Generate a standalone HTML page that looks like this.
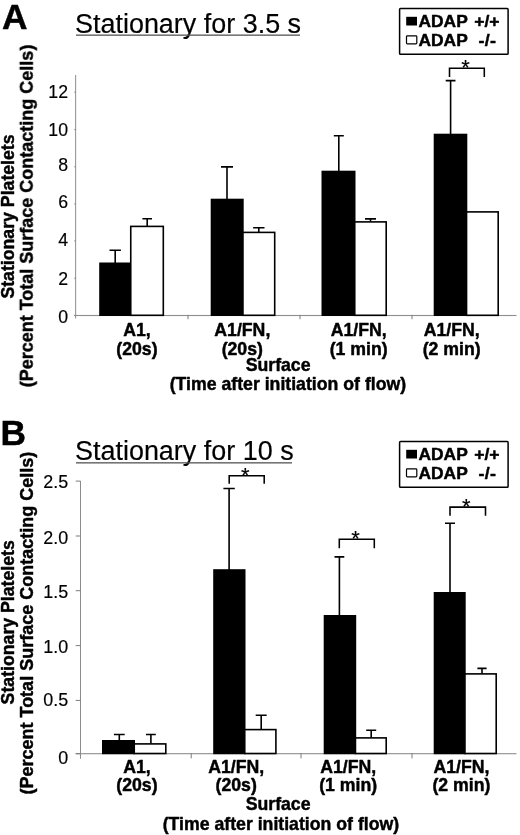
<!DOCTYPE html>
<html><head><meta charset="utf-8"><title>Figure</title>
<style>html,body{margin:0;padding:0;background:#fff}svg{display:block}text{font-family:"Liberation Sans", sans-serif;fill:#000;stroke:#000;stroke-width:0.18px;stroke-linejoin:round}text[font-weight=bold]{stroke-width:0.45px}</style>
</head><body>
<svg width="520" height="835" viewBox="0 0 520 835">
<defs><filter id="soft" x="0" y="0" width="520" height="835" filterUnits="userSpaceOnUse" color-interpolation-filters="sRGB"><feGaussianBlur stdDeviation="0.4"/></filter></defs>
<rect width="520" height="835" fill="#fff"/>
<g filter="url(#soft)">
<text x="2.1" y="28.8" font-size="35.3" font-weight="bold" text-anchor="start" >A</text>
<text x="75" y="32.5" font-size="26.95" font-weight="normal" text-anchor="start" >Stationary for 3.5 s</text>
<rect x="76" y="34.5" width="224" height="1.3" fill="#555"/>
<rect x="75.05" y="75" width="1.1" height="243.5" fill="#989898"/>
<rect x="74.3" y="314.95" width="442.2" height="1.1" fill="#8e8e8e"/>
<rect x="74.3" y="315.0" width="1.3" height="1" fill="#7c7c7c"/>
<text x="68.0" y="322.8" font-size="17.7" font-weight="normal" text-anchor="end" >0</text>
<rect x="74.3" y="277.7" width="1.3" height="1" fill="#7c7c7c"/>
<text x="68.0" y="284.7" font-size="17.7" font-weight="normal" text-anchor="end" >2</text>
<rect x="74.3" y="240.4" width="1.3" height="1" fill="#7c7c7c"/>
<text x="68.0" y="245.9" font-size="17.7" font-weight="normal" text-anchor="end" >4</text>
<rect x="74.3" y="203.4" width="1.3" height="1" fill="#7c7c7c"/>
<text x="68.0" y="208.4" font-size="17.7" font-weight="normal" text-anchor="end" >6</text>
<rect x="74.3" y="166.3" width="1.3" height="1" fill="#7c7c7c"/>
<text x="68.0" y="170.6" font-size="17.7" font-weight="normal" text-anchor="end" >8</text>
<rect x="74.3" y="129.1" width="1.3" height="1" fill="#7c7c7c"/>
<text x="68.0" y="135.6" font-size="17.7" font-weight="normal" text-anchor="end" >10</text>
<rect x="74.3" y="91.7" width="1.3" height="1" fill="#7c7c7c"/>
<text x="68.0" y="97.6" font-size="17.7" font-weight="normal" text-anchor="end" >12</text>
<rect x="187.5" y="315.0" width="1" height="4.2" fill="#7c7c7c"/>
<rect x="299.5" y="315.0" width="1" height="4.2" fill="#7c7c7c"/>
<rect x="411.5" y="315.0" width="1" height="4.2" fill="#7c7c7c"/>
<rect x="99.2" y="262.5" width="32.3" height="53.5" fill="#000"/>
<path d="M115.2 263V250.2M109.5 250.2H120.9" stroke="#000" stroke-width="1.6" fill="none"/>
<rect x="130.75" y="226.40" width="32.55" height="88.90" fill="#fff" stroke="#000" stroke-width="1.6"/>
<path d="M147.2 226V218.7M142.39999999999998 218.7H152.0" stroke="#000" stroke-width="1.6" fill="none"/>
<rect x="210.7" y="198.7" width="33.0" height="117.30000000000001" fill="#000"/>
<path d="M227 199V166.9M221.0 166.9H233.0" stroke="#000" stroke-width="1.6" fill="none"/>
<rect x="242.95" y="232.40" width="31.75" height="82.90" fill="#fff" stroke="#000" stroke-width="1.6"/>
<path d="M258.8 232V227.7M253.10000000000002 227.7H264.5" stroke="#000" stroke-width="1.6" fill="none"/>
<rect x="321.5" y="170.7" width="34.0" height="145.3" fill="#000"/>
<path d="M338.8 171V135.7M333.8 135.7H343.8" stroke="#000" stroke-width="1.6" fill="none"/>
<rect x="354.75" y="221.90" width="31.45" height="93.40" fill="#fff" stroke="#000" stroke-width="1.6"/>
<path d="M370.5 221.5V218.9M365.0 218.9H376.0" stroke="#000" stroke-width="1.6" fill="none"/>
<rect x="433.7" y="133.7" width="33.60000000000002" height="182.3" fill="#000"/>
<path d="M450.6 134V80.6M445.70000000000005 80.6H455.5" stroke="#000" stroke-width="1.6" fill="none"/>
<rect x="466.55" y="211.90" width="31.65" height="103.40" fill="#fff" stroke="#000" stroke-width="1.6"/>
<path d="M449.5 77V68.3H484.3V77" stroke="#000" stroke-width="1.55" fill="none"/>
<text x="465.5" y="75.39999999999999" font-size="22" font-weight="normal" text-anchor="middle" >*</text>
<rect x="399.6" y="8.55" width="108.5" height="45.75" rx="0.9" fill="#fff" stroke="#000" stroke-width="1.5"/>
<rect x="406.20000000000005" y="16.8" width="10.8" height="8.7" fill="#000"/>
<rect x="406.5" y="35.900000000000006" width="10.3" height="8.0" rx="0.8" fill="#fff" stroke="#000" stroke-width="1.2"/>
<text transform="translate(418.5,26.8) scale(1.03,1)" font-size="16.9" font-weight="bold" text-anchor="start" >ADAP</text>
<text transform="translate(499.6,26.8) scale(1.04,1)" font-size="16.9" font-weight="bold" text-anchor="end" >+/+</text>
<text transform="translate(418.5,45.8) scale(1.03,1)" font-size="16.9" font-weight="bold" text-anchor="start" >ADAP</text>
<text transform="translate(496.20000000000005,45.8) scale(1.06,1)" font-size="16.9" font-weight="bold" text-anchor="end" letter-spacing="0.25">-/-</text>
<text transform="translate(13.7,216.5) rotate(-90)" font-size="17.7" font-weight="bold" text-anchor="middle">Stationary Platelets</text>
<text transform="translate(32.8,216) rotate(-90)" font-size="18.0" font-weight="bold" text-anchor="middle">(Percent Total Surface Contacting Cells)</text>
<text x="136.9" y="335.5" font-size="17.7" font-weight="bold" text-anchor="middle" >A1,</text>
<text x="136.9" y="355" font-size="17.7" font-weight="bold" text-anchor="middle" >(20s)</text>
<text x="242.3" y="335.5" font-size="17.7" font-weight="bold" text-anchor="middle" >A1/FN,</text>
<text x="242.3" y="355" font-size="17.7" font-weight="bold" text-anchor="middle" >(20s)</text>
<text x="358.7" y="335.5" font-size="17.7" font-weight="bold" text-anchor="middle" >A1/FN,</text>
<text x="358.7" y="355" font-size="17.7" font-weight="bold" text-anchor="middle" >(1 min)</text>
<text x="451.7" y="335.5" font-size="17.7" font-weight="bold" text-anchor="middle" >A1/FN,</text>
<text x="451.7" y="355" font-size="17.7" font-weight="bold" text-anchor="middle" >(2 min)</text>
<text x="278.1" y="371.3" font-size="17.7" font-weight="bold" text-anchor="middle" >Surface</text>
<text x="287.9" y="389.5" font-size="17.7" font-weight="bold" text-anchor="middle" >(Time after initiation of flow)</text>
<text x="0.6" y="444.7" font-size="35.3" font-weight="bold" text-anchor="start" >B</text>
<text x="75" y="459.7" font-size="26.95" font-weight="normal" text-anchor="start" >Stationary for 10 s</text>
<rect x="76" y="462.2" width="216" height="1.3" fill="#555"/>
<rect x="80.0" y="481" width="1" height="277.70000000000005" fill="#8c8c8c"/>
<rect x="75.7" y="753.1500000000001" width="440.8" height="1.1" fill="#8e8e8e"/>
<rect x="75.7" y="753.2" width="4.8" height="1" fill="#7c7c7c"/>
<text x="68.2" y="763.9" font-size="17.9" font-weight="normal" text-anchor="end" >0</text>
<rect x="75.7" y="699.9" width="4.8" height="1" fill="#7c7c7c"/>
<text x="68.2" y="705.9" font-size="17.9" font-weight="normal" text-anchor="end" >0.5</text>
<rect x="75.7" y="645.1" width="4.8" height="1" fill="#7c7c7c"/>
<text x="68.2" y="652.6" font-size="17.9" font-weight="normal" text-anchor="end" >1.0</text>
<rect x="75.7" y="590.2" width="4.8" height="1" fill="#7c7c7c"/>
<text x="68.2" y="598.4" font-size="17.9" font-weight="normal" text-anchor="end" >1.5</text>
<rect x="75.7" y="535.5" width="4.8" height="1" fill="#7c7c7c"/>
<text x="68.2" y="543.8" font-size="17.9" font-weight="normal" text-anchor="end" >2.0</text>
<rect x="75.7" y="480.6" width="4.8" height="1" fill="#7c7c7c"/>
<text x="68.2" y="488.0" font-size="17.9" font-weight="normal" text-anchor="end" >2.5</text>
<rect x="190.7" y="753.2" width="1" height="5.2" fill="#7c7c7c"/>
<rect x="300.5" y="753.2" width="1" height="5.2" fill="#7c7c7c"/>
<rect x="411.5" y="753.2" width="1" height="5.2" fill="#7c7c7c"/>
<rect x="102" y="740" width="33" height="14.200000000000045" fill="#000"/>
<path d="M119.3 740.5V734.5M113.89999999999999 734.5H124.7" stroke="#000" stroke-width="1.6" fill="none"/>
<rect x="134.25" y="743.90" width="31.55" height="9.60" fill="#fff" stroke="#000" stroke-width="1.6"/>
<path d="M150.9 743.5V734.5M146.0 734.5H155.8" stroke="#000" stroke-width="1.6" fill="none"/>
<rect x="213.2" y="569.2" width="32.30000000000001" height="185.0" fill="#000"/>
<path d="M229.1 570V488.5M223.4 488.5H234.79999999999998" stroke="#000" stroke-width="1.6" fill="none"/>
<rect x="244.75" y="729.60" width="31.15" height="23.90" fill="#fff" stroke="#000" stroke-width="1.6"/>
<path d="M261.2 729V715.2M255.7 715.2H266.7" stroke="#000" stroke-width="1.6" fill="none"/>
<rect x="323.7" y="615" width="32.5" height="139.20000000000005" fill="#000"/>
<path d="M339.4 615.5V556.9M334.5 556.9H344.29999999999995" stroke="#000" stroke-width="1.6" fill="none"/>
<rect x="355.45" y="737.90" width="30.75" height="15.60" fill="#fff" stroke="#000" stroke-width="1.6"/>
<path d="M371.2 737.5V730.2M366.2 730.2H376.2" stroke="#000" stroke-width="1.6" fill="none"/>
<rect x="433.7" y="592" width="32.0" height="162.20000000000005" fill="#000"/>
<path d="M450 592.5V523.2M445.0 523.2H455.0" stroke="#000" stroke-width="1.6" fill="none"/>
<rect x="464.95" y="673.90" width="31.25" height="79.60" fill="#fff" stroke="#000" stroke-width="1.6"/>
<path d="M482 673.5V668.4M477.4 668.4H486.6" stroke="#000" stroke-width="1.6" fill="none"/>
<path d="M229.2 483.8V475.8H264.2V483.8" stroke="#000" stroke-width="1.55" fill="none"/>
<text x="245.2" y="482.90000000000003" font-size="22" font-weight="normal" text-anchor="middle" >*</text>
<path d="M339.3 548.3V539.2H374.3V548.3" stroke="#000" stroke-width="1.55" fill="none"/>
<text x="355.6" y="546.3000000000001" font-size="22" font-weight="normal" text-anchor="middle" >*</text>
<path d="M450 515.8V507.1H485.5V515.8" stroke="#000" stroke-width="1.55" fill="none"/>
<text x="466.2" y="514.2" font-size="22" font-weight="normal" text-anchor="middle" >*</text>
<rect x="399.6" y="441.55" width="108.5" height="45.75" rx="0.9" fill="#fff" stroke="#000" stroke-width="1.5"/>
<rect x="406.20000000000005" y="449.8" width="10.8" height="8.7" fill="#000"/>
<rect x="406.5" y="468.90000000000003" width="10.3" height="8.0" rx="0.8" fill="#fff" stroke="#000" stroke-width="1.2"/>
<text transform="translate(418.5,459.8) scale(1.03,1)" font-size="16.9" font-weight="bold" text-anchor="start" >ADAP</text>
<text transform="translate(499.6,459.8) scale(1.04,1)" font-size="16.9" font-weight="bold" text-anchor="end" >+/+</text>
<text transform="translate(418.5,478.8) scale(1.03,1)" font-size="16.9" font-weight="bold" text-anchor="start" >ADAP</text>
<text transform="translate(496.20000000000005,478.8) scale(1.06,1)" font-size="16.9" font-weight="bold" text-anchor="end" letter-spacing="0.25">-/-</text>
<text transform="translate(13.7,622.3) rotate(-90)" font-size="17.7" font-weight="bold" text-anchor="middle">Stationary Platelets</text>
<text transform="translate(32.8,623.2) rotate(-90)" font-size="18.0" font-weight="bold" text-anchor="middle">(Percent Total Surface Contacting Cells)</text>
<text x="136.9" y="772.5" font-size="17.7" font-weight="bold" text-anchor="middle" >A1,</text>
<text x="136.9" y="791.3" font-size="17.7" font-weight="bold" text-anchor="middle" >(20s)</text>
<text x="236.2" y="772.5" font-size="17.7" font-weight="bold" text-anchor="middle" >A1/FN,</text>
<text x="236.2" y="791.3" font-size="17.7" font-weight="bold" text-anchor="middle" >(20s)</text>
<text x="348.2" y="772.5" font-size="17.7" font-weight="bold" text-anchor="middle" >A1/FN,</text>
<text x="348.2" y="791.3" font-size="17.7" font-weight="bold" text-anchor="middle" >(1 min)</text>
<text x="461.4" y="772.5" font-size="17.7" font-weight="bold" text-anchor="middle" >A1/FN,</text>
<text x="461.4" y="791.3" font-size="17.7" font-weight="bold" text-anchor="middle" >(2 min)</text>
<text x="278.1" y="810" font-size="17.7" font-weight="bold" text-anchor="middle" >Surface</text>
<text x="280.9" y="830.3" font-size="17.7" font-weight="bold" text-anchor="middle" >(Time after initiation of flow)</text>
</g></svg></body></html>
